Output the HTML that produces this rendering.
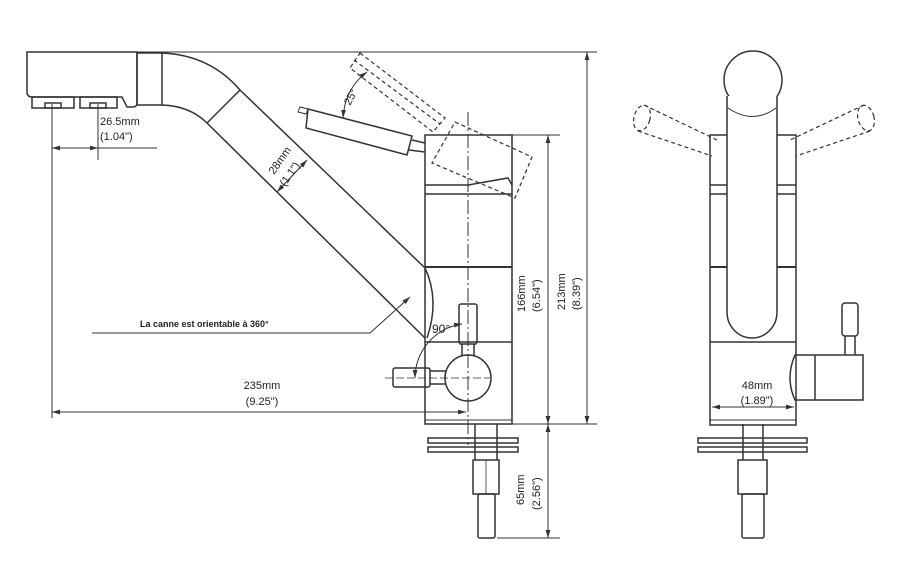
<!DOCTYPE html>
<html><head><meta charset="utf-8"><style>
html,body{margin:0;padding:0;background:#fff;width:901px;height:582px;overflow:hidden}
svg{display:block}
text{font-family:"Liberation Sans",Arial,sans-serif;fill:#222}
</style></head><body>
<svg width="901" height="582" viewBox="0 0 901 582" xmlns="http://www.w3.org/2000/svg">
<defs>
<marker id="a" viewBox="0 0 10 6" refX="10" refY="3" markerWidth="8" markerHeight="5" orient="auto-start-reverse"><path d="M0,0L10,3L0,6z" fill="#333"/></marker>
</defs>
<g fill="none" stroke="#333" stroke-width="1.5">
<line x1="27" y1="52" x2="597" y2="52" stroke-width="1"/>
<path d="M27,52 H137 V103 Q137,107 133,107 H127 L122,97 H32 Q27,97 27,92 Z"/>
<rect x="32" y="97" width="42" height="11"/>
<rect x="80" y="97" width="37" height="11"/>
<rect x="45" y="103" width="16" height="5"/>
<rect x="90" y="103" width="16" height="5"/>
<rect x="137" y="53" width="25" height="52"/>
<path d="M162,53 Q210,55 240,90 L425,268"/>
<path d="M162,105 Q190,106 207,123 L425,338"/>
<line x1="207" y1="123" x2="240" y2="90"/>
<path d="M425,268 Q440,300 427,338"/>
<line x1="277" y1="192" x2="307" y2="160" stroke-width="1" marker-start="url(#a)" marker-end="url(#a)"/>
<rect x="425" y="135" width="87" height="289"/>
<line x1="425" y1="194" x2="512" y2="194"/>
<line x1="425" y1="185" x2="470" y2="185"/>
<line x1="425" y1="267" x2="512" y2="267" stroke-width="2"/>
<line x1="425" y1="342" x2="512" y2="342"/>
<line x1="425" y1="420" x2="512" y2="420" stroke-width="1"/>
<path d="M468,185 L508,178 L512,185"/>
<polygon points="308,109 412,136 407,155 306,128"/>
<polygon points="308,109 300,107 298,112 306,114" stroke-width="1"/>
<path d="M412,140 L425,143 M409,150 L425,152"/>
<g stroke-dasharray="4,3" stroke-width="1.2">
<polygon points="360,53 445,118 433,132 350,68"/>
<line x1="354" y1="60" x2="440" y2="124"/>
<polygon points="455,122 532,157 515,198 432,163"/>
</g>
<path d="M367,72 Q345,88 343,118" stroke-width="1" marker-start="url(#a)" marker-end="url(#a)"/>
<line x1="468" y1="112" x2="468" y2="445" stroke-width="1" stroke-dasharray="14,3,2,3"/>
<circle cx="468" cy="378" r="23"/>
<rect x="459" y="304" width="18" height="40" rx="2"/>
<path d="M462,344 V356 M474,344 V356"/>
<rect x="393" y="368" width="37" height="19" rx="2"/>
<path d="M430,371 H446 M430,384 H446"/>
<line x1="385" y1="378" x2="490" y2="378" stroke-width="0.8" stroke-dasharray="8,3"/>
<path d="M415,378 A55,55 0 0 1 462,324" stroke-width="1" marker-start="url(#a)" marker-end="url(#a)"/>
<path d="M475,424 V460 M497,424 V460"/>
<rect x="428" y="438" width="90" height="5"/>
<rect x="428" y="447" width="90" height="5"/>
<rect x="473" y="460" width="26" height="34"/>
<line x1="486" y1="460" x2="486" y2="494" stroke-width="0.8"/>
<rect x="478" y="494" width="17" height="44" rx="2"/>
<line x1="52" y1="104" x2="52" y2="418" stroke-width="1"/>
<line x1="98" y1="104" x2="98" y2="160" stroke-width="1"/>
<line x1="52" y1="148" x2="98" y2="148" stroke-width="1" marker-start="url(#a)" marker-end="url(#a)"/>
<line x1="98" y1="148" x2="157" y2="148" stroke-width="1"/>
<line x1="52" y1="412" x2="466" y2="412" stroke-width="1" marker-start="url(#a)" marker-end="url(#a)"/>
<path d="M92,333 H370 L410,297" stroke-width="1" marker-end="url(#a)"/>
<line x1="512" y1="135" x2="560" y2="135" stroke-width="1"/>
<line x1="512" y1="424" x2="597" y2="424" stroke-width="1"/>
<line x1="497" y1="538" x2="560" y2="538" stroke-width="1"/>
<line x1="548" y1="135" x2="548" y2="424" stroke-width="1" marker-start="url(#a)" marker-end="url(#a)"/>
<line x1="548" y1="424" x2="548" y2="538" stroke-width="1" marker-start="url(#a)" marker-end="url(#a)"/>
<line x1="587" y1="52" x2="587" y2="424" stroke-width="1" marker-start="url(#a)" marker-end="url(#a)"/>
<circle cx="753" cy="80" r="29"/>
<rect x="730" y="97" width="45" height="12" fill="#fff"/>
<line x1="732" y1="108" x2="773" y2="108"/>
<rect x="710" y="135" width="86" height="290"/>
<line x1="710" y1="185" x2="796" y2="185"/>
<line x1="710" y1="194" x2="796" y2="194"/>
<line x1="710" y1="267" x2="796" y2="267" stroke-width="2"/>
<line x1="710" y1="342" x2="796" y2="342"/>
<line x1="710" y1="420" x2="796" y2="420" stroke-width="1"/>
<path d="M727,96 V312 A25,26 0 0 0 777,312 V96" fill="#fff"/>
<path d="M728,108 Q753,125 776,108" stroke-width="1"/>
<g stroke-dasharray="4,3" stroke-width="1.2">
<ellipse cx="642" cy="118" rx="8" ry="13" transform="rotate(15 642 118)"/>
<path d="M644,105 L717,140 M638,131 L712,156"/>
<ellipse cx="866" cy="118" rx="8" ry="13" transform="rotate(-15 866 118)"/>
<path d="M864,105 L790,140 M870,131 L796,156"/>
</g>
<path d="M795,355 H863 V400 H795 Q785,378 795,355 Z"/>
<line x1="815" y1="355" x2="815" y2="400"/>
<rect x="842" y="303" width="16" height="33" rx="3"/>
<path d="M845,336 V355 M855,336 V355"/>
<line x1="712" y1="407" x2="794" y2="407" stroke-width="1" marker-start="url(#a)" marker-end="url(#a)"/>
<path d="M743,424 V460 M763,424 V460"/>
<rect x="698" y="438" width="109" height="5"/>
<rect x="698" y="447" width="109" height="5"/>
<rect x="738" y="460" width="29" height="34"/>
<rect x="742" y="494" width="22" height="44" rx="2"/>
</g>
<g font-size="11">
<text x="100" y="125">26.5mm</text>
<text x="100" y="140">(1.04")</text>
<text x="262" y="389" text-anchor="middle">235mm</text>
<text x="262" y="405" text-anchor="middle">(9.25")</text>
<text x="757" y="389" text-anchor="middle">48mm</text>
<text x="757" y="404" text-anchor="middle">(1.89")</text>
<text x="140" y="327" font-size="9" font-weight="bold">La canne est orientable à 360°</text>
<text transform="translate(274,175) rotate(-55)">28mm</text>
<text transform="translate(285,187) rotate(-55)">(1.1")</text>
<text transform="translate(350,106) rotate(-62)">25°</text>
<text x="432" y="333" font-size="12">90°</text>
<text transform="translate(525,312) rotate(-90)">166mm</text>
<text transform="translate(540,312) rotate(-90)">(6.54")</text>
<text transform="translate(565,310) rotate(-90)">213mm</text>
<text transform="translate(580,310) rotate(-90)">(8.39")</text>
<text transform="translate(524,505) rotate(-90)">65mm</text>
<text transform="translate(540,510) rotate(-90)">(2.56")</text>
</g>
</svg>
</body></html>
